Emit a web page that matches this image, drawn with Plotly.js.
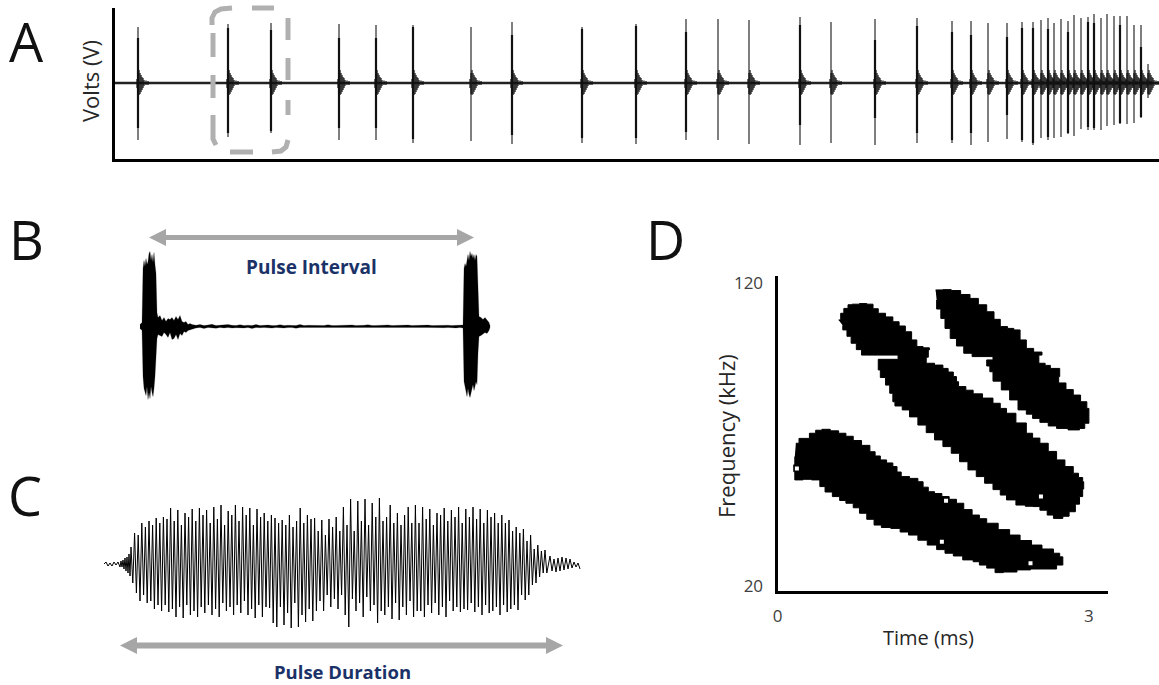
<!DOCTYPE html>
<html>
<head>
<meta charset="utf-8">
<script src="https://cdn.plot.ly/plotly-3.0.1.min.js"></script>
<style>html,body{margin:0;padding:0;background:#fff;overflow:hidden}</style>
</head>
<body>
<div id="chart" style="width:1159px;height:685px"></div>
<script>
// Panel A: pulse train
const aTime = [25,115,158,226,263,300,358,399,469,523,573,605,636,687,718,762,804,839,858,875,894,909,920,928,935,941,948,955,961,968,975,981,988,994,1001,1007,1014,1021,1028,1035];
const aUp   = [56,59,60,59,58,58,56,61,56,59,64,64,63,66,61,64,65,62,62,60,60,61,61,63,65,60,64,62,68,65,66,69,65,69,67,67,67,58,58,19];
const aLo   = [57,54,50,57,57,60,58,61,60,61,57,57,61,62,60,62,60,60,62,59,56,59,62,55,57,55,54,51,53,46,47,47,47,43,42,41,41,40,35,15];
const aCoreUp = [45,55,53,45,45,56,0,48,54,57,51,0,0,58,0,43,57,51,48,0,46,55,55,0,54,0,0,51,0,0,61,60,0,0,0,58,0,0,36,0];
const aCoreLo = [45,50,48,45,45,56,0,52,55,55,49,0,0,42,0,35,50,57,50,0,32,57,60,0,54,0,0,50,0,0,44,45,0,0,0,40,0,0,34,0];
const ringOffset = [-1,0,1,2,3,4,5,6,8,10];
const ringUp = [4,10,13,10,8,6,5,3,2.5,2];
const ringLo = [5,11,12,11,9,7,5,3,2,2];

// Panel B: envelope of two pulses
const bTime = [10,12,13,14,15,16,17,18,19,20,21,22,23,24,25,26,27,
  28,30,32,34,36,38,40,42,44,46,48,50,52,54,56,58,60,62,
  66,70,74,78,82,86,90,94,98,102,106,110,114,118,122,126,130,134,138,142,146,150,154,158,162,166,170,174,178,182,186,190,194,198,202,206,210,214,218,222,226,230,234,238,242,246,250,254,258,262,266,270,274,278,282,286,290,294,298,302,306,310,314,318,322,326,330,
  333,334,335,336,337,338,339,340,341,342,343,344,345,346,347,348,349,351,353,355,357,359,360];
const bUp = [2,4,58,66,60,68,62,65,73,75,66,72,64,74,62,53,14,
  9,11,6,9,5,8,7,9,6,10,7,11,5,4,5,2,3,2,
  1.2,2,1,1.5,2.2,1,1.3,1,2,1.2,
  1,1.8,1,1.3,1,2,1,1.2,1.5,1,
  1,1.8,1,1.2,1,1,2,1,1.2,1,
  1.4,1,1,1.8,1,1,1.2,1,1,1.6,
  1,1,1.2,1.8,1,1,1.3,1,1.6,1,
  1.2,1,1,1.5,1,1.2,1,1,1.4,1,
  1.2,1,1,1.3,1,1,1.2,
  1.5,58,63,60,68,72,66,75,70,73,68,72,66,72,70,40,10,9,7,9,6,4,1];
const bLo = [2,4,50,62,66,69,60,73,66,72,60,66,70,62,50,40,12,
  8,9,10,6,8,11,6,13,12,8,13,7,9,5,6,4,3,3,
  1.5,1,2,1,1.2,1.8,1,1.4,1,1.6,
  1.2,1,1.5,1,2,1,1.2,1,1,1.6,
  1,1.2,1.5,1,1,1.8,1,1,1.5,1,
  1,1.4,1,1,1.2,1.7,1,1,1,1.3,
  1,1.5,1,1,1.2,1,1,1.6,1,1,
  1,1.4,1,1,1.1,1.5,1,1,1,1.3,
  1,1,1.2,1,1,1.4,1,
  1.5,55,60,64,70,62,68,71,66,62,58,64,60,55,58,27,10,9,8,6,7,4,1];

// Panel C: single pulse waveform, peak heights per cycle
const cHeadTime = [4,6,8,10,12,14,16,18,20,21,22,23,24,25,26,27,28,29,30];
const cHeadAmp  = [1,3,-1,2,-1,3,0,3,-2,4,-2,5,-4,7,-6,8,-8,11,-11];
const cStart = 31, cPeriod = 3.6;
const cUp = [18,32,30,42,38,44,40,47,42,48,
  46,57,44,55,40,52,48,56,44,57,
  50,55,42,58,46,60,40,54,50,60,
  44,58,50,57,40,56,48,52,44,50,
  47,42,45,40,50,38,44,57,42,50,
  46,47,34,45,30,46,38,48,34,58,
  40,66,34,64,44,66,40,62,48,67,
  44,48,60,42,52,40,50,58,42,60,
  42,58,46,56,40,52,50,57,44,55,
  48,58,42,56,48,58,46,56,42,55,
  48,52,42,50,42,45,34,38,32,36,
  24,30,16,20,14,15];
const cDown = [18,28,36,30,38,36,44,40,46,40,
  47,44,52,42,53,40,50,46,52,42,
  48,40,50,44,52,38,46,42,50,40,
  48,36,50,44,53,40,52,42,43,58,
  62,42,60,48,63,38,62,50,57,44,
  56,46,36,46,30,42,34,44,30,50,
  62,34,46,38,52,32,46,40,58,46,
  50,42,54,38,55,42,50,36,52,46,
  46,52,40,48,38,50,42,52,36,46,
  42,47,44,45,38,47,42,50,40,48,
  46,42,50,40,47,44,40,45,30,35,
  30,20,18,12,8,8];
const cTailTime = [450,452,454,456,458,460,462,464,466,468,470,472,474,476,478,480];
const cTailAmp  = [9,-6,6,-7,7,-6,8,-5,7,-4,6,-3,3,-2,2,-4];

// Panel D: call contours in ms and kHz
const d1Ms  = [0.19,0.22,0.32,0.38,0.44,0.52,0.60,0.67,0.74,0.82,0.90,0.95,1.00,1.06,1.12,1.16,1.20,1.28,1.36,1.41,1.46,1.52,1.59,1.66,1.73,1.80,1.88,1.95,2.02,2.13,2.24,2.34,2.45,2.55,2.66,2.72,2.75,2.75,2.69,2.56,2.44,2.31,2.18,2.10,2.02,1.95,1.89,1.79,1.70,1.62,1.54,1.45,1.36,1.27,1.19,1.10,1.01,0.94,0.87,0.80,0.74,0.67,0.61,0.54,0.47,0.42,0.34,0.26,0.18,0.17,0.18];
const d1KHz = [67.1,68.7,70.4,71.4,71.7,71.2,70.4,69.4,68.0,66.4,64.3,62.9,61.6,60.6,59.4,57.6,56.1,55.5,54.4,52.6,51.1,50.5,49.5,48.6,47.3,45.2,43.4,42.2,40.7,38.6,36.8,35.0,33.5,32.2,30.8,29.6,28.8,26.9,25.6,25.6,25.3,24.6,24.4,25.9,26.9,28.0,28.6,29.9,30.8,32.0,33.5,35.1,36.8,37.8,39.0,39.3,40.1,42.0,44.0,45.8,47.3,48.2,49.5,51.0,52.8,55.0,55.2,55.0,57.7,60.0,62.7];
const d2Ms  = [0.60,0.62,0.65,0.69,0.73,0.80,0.87,0.93,0.98,1.05,1.12,1.18,1.24,1.30,1.35,1.41,1.47,1.46,1.44,1.52,1.60,1.65,1.70,1.73,1.75,1.82,1.89,1.98,2.08,2.15,2.21,2.30,2.40,2.46,2.53,2.61,2.69,2.77,2.85,2.90,2.94,2.95,2.94,2.91,2.87,2.81,2.75,2.66,2.60,2.53,2.46,2.39,2.30,2.21,2.15,2.08,2.00,1.92,1.84,1.76,1.68,1.60,1.52,1.44,1.36,1.28,1.21,1.14,1.12,1.09,1.05,1.00,0.98,1.17,1.17,0.87,0.82,0.77,0.72,0.68,0.64];
const d2KHz = [107.8,110.0,111.6,112.8,113.0,113.2,113.0,111.5,110.0,108.8,107.2,105.8,103.9,101.2,99.0,98.6,97.9,95.5,93.5,92.9,91.8,90.6,89.1,87.4,85.8,84.6,83.4,82.0,80.3,78.6,77.0,73.8,70.4,68.8,67.1,64.4,61.6,59.4,57.2,55.8,54.4,52.0,49.5,47.0,44.5,43.0,42.3,43.4,45.0,46.2,46.3,46.7,48.4,50.0,51.8,53.9,56.1,58.3,61.0,63.8,66.0,68.2,70.6,73.1,75.8,78.1,79.4,80.8,83.6,86.3,88.8,91.3,94.8,95.1,96.2,96.2,98.0,100.1,102.4,104.5,106.0];
const d3Ms  = [1.53,1.60,1.68,1.77,1.86,1.94,2.02,2.09,2.15,2.22,2.28,2.34,2.40,2.47,2.55,2.52,2.58,2.63,2.72,2.71,2.78,2.85,2.92,2.98,3.00,3.00,2.96,2.91,2.80,2.69,2.61,2.53,2.46,2.40,2.32,2.24,2.16,2.08,2.05,2.02,2.08,1.88,1.80,1.73,1.67,1.62,1.58,1.54];
const d3KHz = [117.7,117.8,117.5,116.2,114.9,112.8,110.5,108.0,105.6,105.0,104.5,101.2,98.4,97.2,96.2,93.5,92.8,91.8,89.1,87.0,84.8,83.0,80.8,78.6,76.0,73.7,72.0,71.5,72.0,72.8,74.0,75.3,76.7,78.1,81.4,84.7,87.6,90.7,92.6,94.6,95.7,96.8,99.2,101.7,105.0,108.3,111.4,114.4];
const holeMs  = [2.54,1.63,1.59,2.44,0.20];
const holeKHz = [49.5,48.1,34.6,27.5,58.8];

const W = 1159, H = 685;
const fx = x => x / W, fy = y => 1 - y / H;
const GREY = '#A6A6A6', NAVY = '#1B3268', FONT = '"Open Sans", sans-serif';

function sticks(ts, ups, los) {
  const x = [], y = [];
  ts.forEach((t, i) => { if (ups[i] > 0) { x.push(t, t, null); y.push(ups[i], -los[i], null); } });
  return {x, y};
}
const thin = sticks(aTime, aUp, aLo);
const core = sticks(aTime, aCoreUp, aCoreLo);
const ringX = [], ringY = [];
aTime.forEach(t => ringOffset.forEach((o, k) => { ringX.push(t + o, t + o, null); ringY.push(ringUp[k], -ringLo[k], null); }));

const cX = cHeadTime.slice(), cY = cHeadAmp.slice();
cUp.forEach((u, i) => { cX.push(cStart + i * cPeriod, cStart + (i + 0.5) * cPeriod); cY.push(u, -cDown[i]); });
cTailTime.forEach((t, i) => { cX.push(t); cY.push(cTailAmp[i]); });

const line = (w, c) => ({width: w, color: c});
const blob = (x, y) => ({x, y, xaxis: 'x4', yaxis: 'y4', mode: 'lines', fill: 'toself', fillcolor: '#000', line: {width: 1, color: '#000', shape: 'hv'}});
const traces = [
  {x: [1.5, 1046], y: [0, 0], xaxis: 'x', yaxis: 'y', mode: 'lines', line: line(2.4, '#222')},
  {x: thin.x, y: thin.y, xaxis: 'x', yaxis: 'y', mode: 'lines', line: line(1.5, '#555')},
  {x: core.x, y: core.y, xaxis: 'x', yaxis: 'y', mode: 'lines', line: line(2.2, '#111')},
  {x: ringX, y: ringY, xaxis: 'x', yaxis: 'y', mode: 'lines', line: line(1.2, '#111')},
  {x: bTime.concat(bTime.slice().reverse()), y: bUp.concat(bLo.map(v => -v).reverse()), xaxis: 'x2', yaxis: 'y2',
   mode: 'lines', fill: 'toself', fillcolor: '#000', line: line(0.2, '#000')},
  {x: cX, y: cY, xaxis: 'x3', yaxis: 'y3', mode: 'lines', line: line(1, '#000')},
  blob(d1Ms, d1KHz), blob(d2Ms, d2KHz), blob(d3Ms, d3KHz),
  {x: holeMs, y: holeKHz, xaxis: 'x4', yaxis: 'y4', mode: 'markers', marker: {symbol: 'square', size: 4, color: '#fff'}}
];

const hidden = {visible: false, fixedrange: true};
const pathOf = pts => pts.map((p, i) => (i ? 'L' : 'M') + fx(p[0]) + ',' + fy(p[1])).join(' ');
const strokeShape = pts => ({type: 'path', xref: 'paper', yref: 'paper', path: pathOf(pts), line: {color: '#B0B0B0', width: 5}});
const arrowShapes = (x0, x1, y, sw) => [
  {type: 'line', xref: 'paper', yref: 'paper', x0: fx(x0 + 14), x1: fx(x1 - 14), y0: fy(y), y1: fy(y), line: {color: GREY, width: sw}},
  {type: 'path', xref: 'paper', yref: 'paper', fillcolor: GREY, line: {width: 0},
   path: pathOf([[x0, y], [x0 + 17, y - 8.5], [x0 + 17, y + 8.5]]) + ' Z'},
  {type: 'path', xref: 'paper', yref: 'paper', fillcolor: GREY, line: {width: 0},
   path: pathOf([[x1, y], [x1 - 17, y - 8.5], [x1 - 17, y + 8.5]]) + ' Z'}
];
const dashed = [
  [[212, 25], [212, 18], [215, 12], [221, 9], [232, 8]],
  [[252, 8], [274, 8]],
  [[288, 18], [288, 40]],
  [[288, 58], [288, 80]],
  [[288, 100], [288, 115]],
  [[288, 140], [286, 147], [281, 151], [272, 152]],
  [[253, 152], [230, 152]],
  [[213, 33], [213, 57]],
  [[213, 75], [213, 98]],
  [[213, 115], [213, 139], [216, 145]]
].map(strokeShape);

const note = (text, x, y, size, color, bold, angle) => ({
  text: bold ? '<b>' + text + '</b>' : text, xref: 'paper', yref: 'paper', x: fx(x), y: fy(y),
  xanchor: 'center', yanchor: 'middle', showarrow: false, textangle: angle || 0, font: {family: FONT, size, color}
});

const layout = {
  width: W, height: H, margin: {l: 0, r: 0, t: 0, b: 0}, showlegend: false,
  paper_bgcolor: '#fff', plot_bgcolor: 'rgba(0,0,0,0)', font: {family: FONT},
  xaxis: {domain: [fx(114.5), 1], range: [1.5, 1046], anchor: 'y', showline: true, linewidth: 3, linecolor: '#000',
    showgrid: false, zeroline: false, ticks: '', showticklabels: false, fixedrange: true},
  yaxis: {domain: [fy(158.5), fy(8)], range: [-75.5, 75], anchor: 'x', showline: true, linewidth: 3, linecolor: '#000',
    showgrid: false, zeroline: false, ticks: '', showticklabels: false, fixedrange: true},
  xaxis2: Object.assign({domain: [fx(130), fx(500)], range: [0, 370], anchor: 'y2'}, hidden),
  yaxis2: Object.assign({domain: [fy(410), fy(240)], range: [-83.5, 86.5], anchor: 'x2'}, hidden),
  xaxis3: Object.assign({domain: [fx(100), fx(590)], range: [0, 490], anchor: 'y3'}, hidden),
  yaxis3: Object.assign({domain: [fy(640), fy(490)], range: [-75, 75], anchor: 'x3'}, hidden),
  xaxis4: {domain: [fx(777.5), fx(1108)], range: [0.014, 3.183], anchor: 'y4', showline: true, linewidth: 3, linecolor: '#000',
    showgrid: false, zeroline: false, ticks: '', tickmode: 'array', tickvals: [0.014, 3], ticktext: ['0', '3'],
    tickfont: {family: FONT, size: 17, color: '#404040'}, ticklabelstandoff: 8, fixedrange: true},
  yaxis4: {domain: [fy(590.5), fy(276)], range: [18.5, 122.3], anchor: 'x4', showline: true, linewidth: 3, linecolor: '#000',
    showgrid: false, zeroline: false, ticks: '', tickmode: 'array', tickvals: [20, 120], ticktext: ['20', '120'],
    tickfont: {family: FONT, size: 17, color: '#404040'}, ticklabelstandoff: 8, fixedrange: true},
  shapes: dashed.concat(arrowShapes(149, 474, 237.5, 5), arrowShapes(120, 563, 645.5, 6)),
  annotations: [
    note('A', 26, 41, 54, '#111'), note('B', 26, 239, 54, '#111'),
    note('C', 25, 495, 54, '#111'), note('D', 665, 239, 54, '#111'),
    note('Pulse Interval', 311.5, 267, 19, NAVY, true),
    note('Pulse Duration', 342, 671, 18.5, NAVY, true),
    note('Volts (V)', 90, 81, 22, '#262626', false, -90),
    note('Frequency (kHz)', 726, 436, 22, '#262626', false, -90),
    note('Time (ms)', 928, 637, 20, '#262626')
  ]
};
Plotly.newPlot('chart', traces, layout, {displayModeBar: false, staticPlot: true});
</script>
</body>
</html>
